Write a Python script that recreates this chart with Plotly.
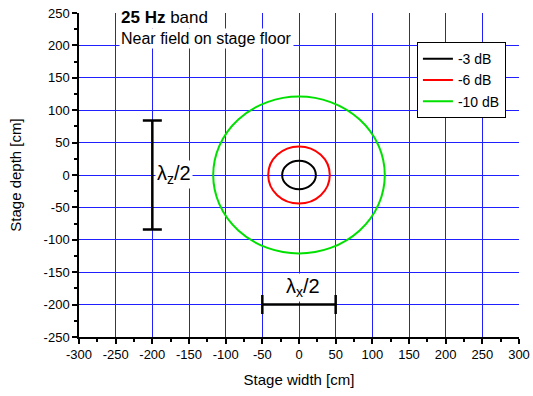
import plotly.graph_objects as go

# ---- data ----
x_ticks = [-300, -250, -200, -150, -100, -50, 0, 50, 100, 150, 200, 250, 300]
x_ticklabels = ["-300", "-250", "-200", "-150", "-100", "-50", "0", "50", "100", "150", "200", "250", "300"]
y_ticks = [-250, -200, -150, -100, -50, 0, 50, 100, 150, 200, 250]
y_ticklabels = ["-250", "-200", "-150", "-100", "-50", "0", "50", "100", "150", "200", "250"]

contour_names = ["-3 dB", "-6 dB", "-10 dB"]
contour_colors = ["#000000", "#ff0000", "#00e000"]
contour_rx = [23, 42, 117]
contour_ry = [22, 44, 121]
contour_cx = [0, 0, 0]
contour_cy = [0, 0, 0]

# half-wavelength markers
lz_x = [-200]
lz_y = [0]
lz_half = [84]
lx_x = [0]
lx_y = [-200]
lx_half = [50]

FONT = "Liberation Sans, Arial, sans-serif"

fig = go.Figure()

# ellipses as shapes in data coordinates
for cx, cy, rx, ry, col in zip(contour_cx, contour_cy, contour_rx, contour_ry, contour_colors):
    fig.add_shape(type="circle", xref="x", yref="y",
                  x0=cx - rx, x1=cx + rx, y0=cy - ry, y1=cy + ry,
                  line=dict(color=col, width=2), layer="above")

# legend entries
for name, col in zip(contour_names, contour_colors):
    fig.add_trace(go.Scatter(x=[None], y=[None], mode="lines", name=name,
                             line=dict(color=col, width=2)))

# vertical lambda_z/2 bar
fig.add_trace(go.Scatter(x=lz_x, y=lz_y, mode="markers", showlegend=False,
                         marker=dict(size=0.1, color="rgba(0,0,0,0)"),
                         error_y=dict(type="data", array=lz_half, color="black",
                                      thickness=2.5, width=9.5)))
# horizontal lambda_x/2 bar
fig.add_trace(go.Scatter(x=lx_x, y=lx_y, mode="markers", showlegend=False,
                         marker=dict(size=0.1, color="rgba(0,0,0,0)"),
                         error_x=dict(type="data", array=lx_half, color="black",
                                      thickness=2.5, width=9.5)))

fig.add_annotation(x=-197, y=1, xref="x", yref="y", text="λ<sub>z</sub>/2",
                   showarrow=False, xanchor="left", yanchor="middle",
                   font=dict(family=FONT, size=20, color="black"),
                   bgcolor="white", borderpad=1)
fig.add_annotation(x=5, y=-174, xref="x", yref="y", text="λ<sub>x</sub>/2",
                   showarrow=False, xanchor="center", yanchor="middle",
                   font=dict(family=FONT, size=20, color="black"),
                   bgcolor="white", borderpad=1)

fig.add_annotation(x=-246, y=243, xref="x", yref="y", text="<b>25 Hz</b> band",
                   showarrow=False, xanchor="left", yanchor="middle",
                   font=dict(family=FONT, size=17, color="black"),
                   bgcolor="white", borderpad=1)
fig.add_annotation(x=-246, y=211, xref="x", yref="y", text="Near field on stage floor",
                   showarrow=False, xanchor="left", yanchor="middle",
                   font=dict(family=FONT, size=16, color="black"),
                   bgcolor="white", borderpad=1)

axis_common = dict(
    automargin=False,
    showline=True, linecolor="black", linewidth=1.5,
    ticks="outside", ticklen=5, tickwidth=1.5, tickcolor="black",
    showgrid=True, gridcolor="#2020ff", gridwidth=1,
    zeroline=False,
    tickfont=dict(family=FONT, size=13, color="black"),
    minor=dict(dtick=25, ticks="outside", ticklen=3, tickwidth=1.5,
               tickcolor="black", showgrid=False),
)

fig.update_xaxes(range=[-300, 300], tickmode="array", tickvals=x_ticks,
                 ticktext=x_ticklabels,
                 title=dict(text="Stage width [cm]", standoff=13,
                            font=dict(family=FONT, size=15, color="black")),
                 **axis_common)
fig.update_yaxes(range=[-250, 250], tickmode="array", tickvals=y_ticks,
                 ticktext=y_ticklabels,
                 title=dict(text="Stage depth [cm]", standoff=18,
                            font=dict(family=FONT, size=15, color="black")),
                 **axis_common)

fig.update_layout(
    width=533, height=396,
    margin=dict(l=79, r=14, t=13, b=59),
    paper_bgcolor="white", plot_bgcolor="white",
    font=dict(family=FONT, size=14, color="black"),
    legend=dict(x=0.768, y=0.91, xanchor="left", yanchor="top",
                bgcolor="white", bordercolor="black", borderwidth=1,
                font=dict(family=FONT, size=14, color="black"),
                itemwidth=30, tracegroupgap=0),
    showlegend=True,
)

fig.write_html("out.html")
